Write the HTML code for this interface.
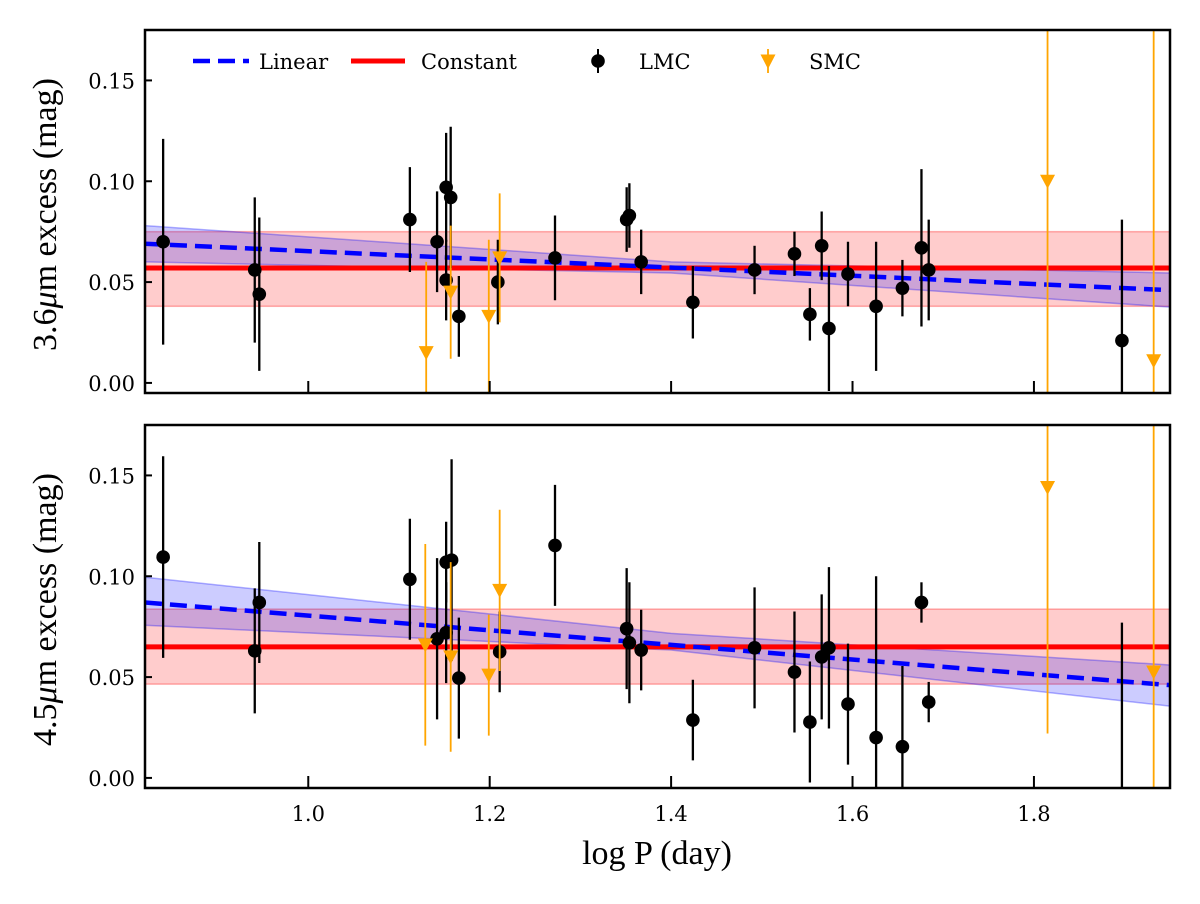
<!DOCTYPE html>
<html><head><meta charset="utf-8">
<style>
html,body{margin:0;padding:0;background:#fff;overflow:hidden;width:1200px;height:904px;}
svg{display:block;}
.tick{font-family:"DejaVu Serif","Liberation Serif",serif;font-size:21px;fill:#000;}
.leg{font-family:"DejaVu Serif","Liberation Serif",serif;font-size:21px;fill:#000;}
.ttl{font-family:"Liberation Serif","DejaVu Serif",serif;font-size:34px;fill:#000;}
</style></head>
<body>
<svg id="chart" width="1200" height="904" viewBox="0 0 1200 904" xmlns="http://www.w3.org/2000/svg"></svg>
<script>
// ---- data ----
const xTicks = [1.0, 1.2, 1.4, 1.6, 1.8];
const xTickLabels = ["1.0", "1.2", "1.4", "1.6", "1.8"];
const yTicks = [0.00, 0.05, 0.10, 0.15];
const yTickLabels = ["0.00", "0.05", "0.10", "0.15"];

// top panel (3.6 micron)
const lmcX1 = [0.840,0.941,0.946,1.112,1.142,1.152,1.157,1.152,1.166,1.209,1.272,1.351,1.354,1.367,1.424,1.492,1.536,1.553,1.566,1.574,1.595,1.626,1.655,1.676,1.684,1.897];
const lmcY1 = [0.070,0.056,0.044,0.081,0.070,0.097,0.092,0.051,0.033,0.050,0.062,0.081,0.083,0.060,0.040,0.056,0.064,0.034,0.068,0.027,0.054,0.038,0.047,0.067,0.056,0.021];
const lmcE1 = [0.051,0.036,0.038,0.026,0.025,0.027,0.035,0.020,0.020,0.021,0.021,0.016,0.016,0.016,0.018,0.012,0.011,0.013,0.017,0.031,0.016,0.032,0.014,0.039,0.025,0.060];
const smcX1 = [1.130,1.157,1.199,1.211,1.815,1.932];
const smcY1 = [0.015,0.045,0.033,0.062,0.100,0.011];
const smcE1 = [0.045,0.033,0.038,0.032,0.300,0.300];
const linX1 = [0.82, 1.95];
const linY1 = [0.069, 0.046];
const bandX1 = [0.82, 1.40, 1.95];
const bandUp1 = [0.078, 0.060, 0.0545];
const bandLo1 = [0.060, 0.0545, 0.0376];
const const1 = [0.057, 0.038, 0.075];

// bottom panel (4.5 micron)
const lmcX2 = [0.840,0.941,0.946,1.112,1.142,1.152,1.158,1.152,1.166,1.211,1.272,1.351,1.354,1.367,1.424,1.492,1.536,1.553,1.566,1.574,1.595,1.626,1.655,1.676,1.684,1.897];
const lmcY2 = [0.1095,0.063,0.087,0.0985,0.069,0.107,0.108,0.072,0.0495,0.0625,0.1153,0.074,0.067,0.0634,0.0287,0.0645,0.0525,0.0277,0.060,0.0645,0.0366,0.020,0.0155,0.087,0.0376,-0.020];
const lmcE2 = [0.050,0.031,0.030,0.030,0.040,0.020,0.050,0.025,0.030,0.020,0.030,0.030,0.030,0.020,0.020,0.030,0.030,0.030,0.031,0.040,0.030,0.080,0.040,0.010,0.010,0.097];
const smcX2 = [1.129,1.157,1.199,1.211,1.815,1.932];
const smcY2 = [0.066,0.060,0.051,0.093,0.144,0.0525];
const smcE2 = [0.050,0.047,0.030,0.040,0.122,0.300];
const linX2 = [0.82, 1.95];
const linY2 = [0.087, 0.046];
const bandX2 = [0.82, 1.40, 1.95];
const bandUp2 = [0.0995, 0.0717, 0.056];
const bandLo2 = [0.0757, 0.0634, 0.0356];
const const2 = [0.065, 0.0465, 0.0837];

// ---- drawing ----
const NS = "http://www.w3.org/2000/svg";
const svg = document.getElementById('chart');
const X0 = 145, X1 = 1170, XMIN = 0.82, XMAX = 1.95;
const YMIN = -0.005, YMAX = 0.175;
function sx(v){ return X0 + (v - XMIN) / (XMAX - XMIN) * (X1 - X0); }
function mk(tag, attrs, parent){
  const e = document.createElementNS(NS, tag);
  for (const k in attrs) e.setAttribute(k, attrs[k]);
  (parent || svg).appendChild(e);
  return e;
}

function panel(pTop, pBot, name, lmcX, lmcY, lmcE, smcX, smcY, smcE, linX, linY, bX, bUp, bLo, cst, title){
  const sy = v => pBot - (v - YMIN) / (YMAX - YMIN) * (pBot - pTop);
  const g = mk('g', {});
  
  
  const clipId = 'clip-' + name;
  const cp = mk('clipPath', {id: clipId}, g);
  mk('rect', {x: X0, y: pTop, width: X1 - X0, height: pBot - pTop}, cp);
  const pg = mk('g', {'clip-path': 'url(#' + clipId + ')'}, g);

  const cb = mk('rect', {x: X0, y: sy(cst[2]), width: X1 - X0, height: sy(cst[1]) - sy(cst[2]), fill: 'rgba(255,0,0,0.2)', stroke: 'rgba(255,0,0,0.3)', 'stroke-width': 1.5}, pg);
  
  
  let pts = [];
  for (let i = 0; i < bX.length; i++) pts.push(sx(bX[i]) + ',' + sy(bUp[i]));
  for (let i = bX.length - 1; i >= 0; i--) pts.push(sx(bX[i]) + ',' + sy(bLo[i]));
  const lb = mk('polygon', {points: pts.join(' '), fill: 'rgba(0,0,255,0.2)', stroke: 'rgba(0,0,255,0.3)', 'stroke-width': 1.5}, pg);
  
  
  const cl = mk('line', {x1: X0, x2: X1, y1: sy(cst[0]), y2: sy(cst[0]), stroke: '#ff0000', 'stroke-width': 5}, pg);
  
  
  const ll = mk('line', {x1: sx(linX[0]), x2: sx(linX[1]), y1: sy(linY[0]), y2: sy(linY[1]), stroke: '#0000ff', 'stroke-width': 4.5, 'stroke-dasharray': '17,8'}, pg);
  
  

  for (let i = 0; i < lmcX.length; i++){
    const x = sx(lmcX[i]);
    const eb = mk('line', {x1: x, x2: x, y1: sy(lmcY[i] - lmcE[i]), y2: sy(lmcY[i] + lmcE[i]), stroke: '#000', 'stroke-width': 2.3}, pg);
    
    
    const c = mk('circle', {cx: x, cy: sy(lmcY[i]), r: 6.8, fill: '#000'}, pg);
    
    
  }
  for (let i = 0; i < smcX.length; i++){
    const x = sx(smcX[i]), y = sy(smcY[i]);
    const eb = mk('line', {x1: x, x2: x, y1: sy(smcY[i] - smcE[i]), y2: sy(smcY[i] + smcE[i]), stroke: '#FFA500', 'stroke-width': 1.8}, pg);
    
    
    const t = mk('polygon', {points: (x-7.5)+','+(y-6.5)+' '+(x+7.5)+','+(y-6.5)+' '+x+','+(y+7.5), fill: '#FFA500'}, pg);
    
    
  }

  const fr = mk('rect', {x: X0, y: pTop, width: X1 - X0, height: pBot - pTop, fill: 'none', stroke: '#000', 'stroke-width': 2.5}, g);
  
  
  for (let i = 0; i < xTicks.length; i++){
    const x = sx(xTicks[i]);
    const tk = mk('line', {x1: x, x2: x, y1: pBot, y2: pBot - 12, stroke: '#000', 'stroke-width': 2}, g);
    
    
  }
  for (let i = 0; i < yTicks.length; i++){
    const y = sy(yTicks[i]);
    const tk = mk('line', {x1: X0, x2: X0 + 7, y1: y, y2: y, stroke: '#000', 'stroke-width': 2}, g);
    
    
    const tl = mk('text', {x: 135, y: y + 8, 'text-anchor': 'end', class: 'tick'}, g);
    tl.textContent = yTickLabels[i];
    
    
  }
  const cy = (pTop + pBot) / 2;
  const yt = mk('text', {x: 0, y: 0, 'text-anchor': 'middle', class: 'ttl', transform: 'translate(56,' + (cy + 3) + ') rotate(-90)'}, g);
  yt.innerHTML = title + '<tspan font-style="italic">μ</tspan>m excess (mag)';
  
  
}

panel(30, 393, 'top-panel', lmcX1, lmcY1, lmcE1, smcX1, smcY1, smcE1, linX1, linY1, bandX1, bandUp1, bandLo1, const1, '3.6');
panel(425, 788, 'bottom-panel', lmcX2, lmcY2, lmcE2, smcX2, smcY2, smcE2, linX2, linY2, bandX2, bandUp2, bandLo2, const2, '4.5');

for (let i = 0; i < xTicks.length; i++){
  const t = mk('text', {x: sx(xTicks[i]), y: 821, 'text-anchor': 'middle', class: 'tick'});
  t.textContent = xTickLabels[i];
  
  
}
const xt = mk('text', {x: 657, y: 864, 'text-anchor': 'middle', class: 'ttl'});
xt.textContent = 'log P (day)';



const lg = mk('g', {});


const l1 = mk('line', {x1: 193, x2: 249, y1: 61, y2: 61, stroke: '#0000ff', 'stroke-width': 4.5, 'stroke-dasharray': '17,8'}, lg);


const t1 = mk('text', {x: 259, y: 69, class: 'leg'}, lg);
t1.textContent = 'Linear';


const l2 = mk('line', {x1: 351, x2: 405, y1: 61, y2: 61, stroke: '#ff0000', 'stroke-width': 5}, lg);


const t2 = mk('text', {x: 421, y: 69, class: 'leg'}, lg);
t2.textContent = 'Constant';


mk('line', {x1: 598, x2: 598, y1: 49, y2: 73, stroke: '#000', 'stroke-width': 2}, lg);
const c3 = mk('circle', {cx: 598, cy: 61, r: 6.8, fill: '#000'}, lg);


const t3 = mk('text', {x: 639, y: 69, class: 'leg'}, lg);
t3.textContent = 'LMC';


mk('line', {x1: 768, x2: 768, y1: 49, y2: 73, stroke: '#FFA500', 'stroke-width': 1.8}, lg);
const p4 = mk('polygon', {points: '760.5,54.5 775.5,54.5 768,69', fill: '#FFA500'}, lg);


const t4 = mk('text', {x: 809, y: 69, class: 'leg'}, lg);
t4.textContent = 'SMC';


</script>
</body></html>
